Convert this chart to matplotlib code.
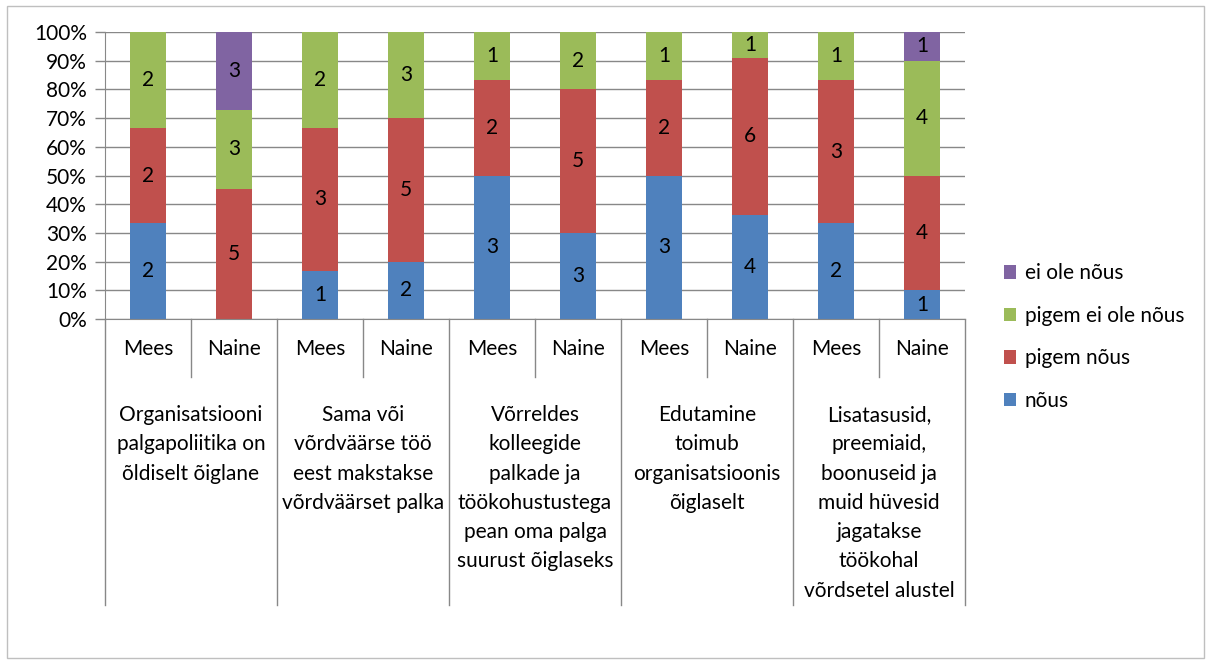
import numpy as np
import matplotlib.pyplot as plt
from matplotlib.patches import Rectangle
from matplotlib.ticker import PercentFormatter

plt.rcParams['font.family'] = ['Lato', 'DejaVu Sans']

groups = [
    "Organisatsiooni\npalgapoliitika on\nõldiselt õiglane",
    "Sama või\nvõrdväärse töö\neest makstakse\nvõrdväärset palka",
    "Võrreldes\nkolleegide\npalkade ja\ntöökohustustega\npean oma palga\nsuurust õiglaseks",
    "Edutamine\ntoimub\norganisatsioonis\nõiglaselt",
    "Lisatasusid,\npreemiaid,\nboonuseid ja\nmuid hüvesid\njagatakse\ntöökohal\nvõrdsetel alustel",
]
genders = ["Mees", "Naine"]
series = ["nõus", "pigem nõus", "pigem ei ole nõus", "ei ole nõus"]
colors = ["#4F81BD", "#C0504D", "#9BBB59", "#8064A2"]

# counts per bar: Mees/Naine for each statement
nous = [2, 0, 1, 2, 3, 3, 3, 4, 2, 1]
pigem_nous = [2, 5, 3, 5, 2, 5, 2, 6, 3, 4]
pigem_ei = [2, 3, 2, 3, 1, 2, 1, 1, 1, 4]
ei_ole = [0, 3, 0, 0, 0, 0, 0, 0, 0, 1]

counts = np.array([nous, pigem_nous, pigem_ei, ei_ole], dtype=float)
shares = counts / counts.sum(axis=0)
n = counts.shape[1]
x = np.arange(n)
fs = 15

W, H = 1209, 664
fig = plt.figure(figsize=(W / 100, H / 100), dpi=100)
fig.patches.append(Rectangle((7 / W, 1 - 658 / H), 1197 / W, 652 / H,
                             transform=fig.transFigure, fill=False,
                             edgecolor='#BFBFBF', linewidth=1))

ax = fig.add_axes([105 / W, 1 - 319 / H, 860 / W, 287 / H])
ax.set_xlim(-0.5, n - 0.5)
ax.set_ylim(0, 1)

bottom = np.zeros(n)
for i in range(4):
    ax.bar(x, shares[i], 0.41, bottom=bottom, color=colors[i], label=series[i], zorder=3)
    for j in range(n):
        if counts[i, j] > 0:
            ax.text(x[j], bottom[j] + shares[i, j] / 2, f"{int(counts[i, j])}",
                    ha='center', va='center', fontsize=fs, zorder=4)
    bottom += shares[i]

ax.set_yticks(np.arange(0, 1.01, 0.1))
ax.yaxis.set_major_formatter(PercentFormatter(1.0, decimals=0))
ax.tick_params(axis='y', labelsize=fs, length=7, width=1, color='#888888', pad=6)
ax.set_xticks([])
ax.grid(axis='y', color='#888888', linewidth=1, zorder=0)
for s in ['top', 'right']:
    ax.spines[s].set_visible(False)
for s in ['left', 'bottom']:
    ax.spines[s].set_color('#888888')
ax.spines['bottom'].set_zorder(5)

# category axis (two levels)
ah = 287.0
short_y = -(377 - 319) / ah
long_y = -(605 - 319) / ah
for k in range(n + 1):
    xb = k - 0.5
    yb = long_y if k % 2 == 0 else short_y
    ax.plot([xb, xb], [0, yb], color='#888888', linewidth=1, clip_on=False)
for j in range(n):
    ax.text(x[j], -(349 - 319) / ah, genders[j % 2], ha='center', va='center', fontsize=fs)
for g, label in enumerate(groups):
    ax.text(2 * g + 0.5, -(405 - 319) / ah, label, ha='center', va='top',
            fontsize=fs, linespacing=1.58)

handles, labels = ax.get_legend_handles_labels()
leg = fig.legend(handles[::-1], labels[::-1], loc='center left',
                 bbox_to_anchor=(985 / W, 1 - 337 / H), frameon=False,
                 fontsize=fs, handlelength=0.6, handleheight=0.6,
                 handletextpad=0.4, labelspacing=1.08)

fig.savefig('out.png', dpi=100)
